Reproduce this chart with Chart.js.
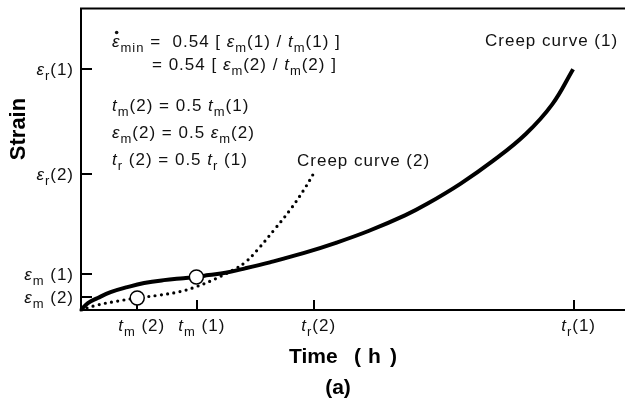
<!DOCTYPE html>
<html>
<head>
<meta charset="utf-8">
<script src="https://cdn.jsdelivr.net/npm/chart.js@4"></script>
<style>
  body { margin: 0; background: #fff; }
</style>
</head>
<body>
<canvas id="creepChart" width="625" height="410"></canvas>
<script>
// Curve data, time in units of t_r(1), strain in units of eps_r(1)
const creep1Time   = [0, 0.014, 0.034, 0.060, 0.094, 0.128, 0.168, 0.208, 0.234, 0.259, 0.293, 0.333, 0.383, 0.451, 0.517, 0.583, 0.657, 0.703, 0.770, 0.836, 0.902, 0.956, 0.998];
const creep1Strain = [0, 0.029, 0.050, 0.074, 0.095, 0.112, 0.124, 0.132, 0.137, 0.145, 0.155, 0.173, 0.198, 0.236, 0.279, 0.328, 0.393, 0.442, 0.525, 0.620, 0.731, 0.855, 1.0];
const creep2Time   = [0, 0.034, 0.074, 0.114, 0.160, 0.200, 0.234, 0.273, 0.307, 0.333, 0.357, 0.391, 0.423, 0.451, 0.475];
const creep2Strain = [0, 0.021, 0.037, 0.050, 0.062, 0.076, 0.097, 0.130, 0.165, 0.198, 0.248, 0.331, 0.413, 0.496, 0.578];

// the two marked points (t_m, eps_m)
const markTime   = [0.234, 0.114];
const markStrain = [0.137, 0.050];

// tick positions and labels (* = italic, _ = subscript)
const xTickValues = [0.114, 0.236, 0.473, 1.0];
const xTickLabels = ["*t*_m (2)", "*t*_m (1)", "*t*_r(2)", "*t*_r(1)"];
const yTickValues = [1.0, 0.566, 0.149, 0.054];
const yTickLabels = ["*ε*_r(1)", "*ε*_r(2)", "*ε*_m (1)", "*ε*_m (2)"];

const FONT = "'Liberation Sans', Arial, sans-serif";
const SPACING = 1; // the figure's text is set a little loose

// split a marked-up string into pieces
function parseRich(s) {
  const out = [];
  let italic = false;
  let i = 0;
  let buf = "";
  const flush = () => { if (buf) { out.push({ text: buf, italic: italic, sub: false }); buf = ""; } };
  while (i < s.length) {
    const c = s[i];
    if (c === "*") { flush(); italic = !italic; i++; }
    else if (c === "_") {
      flush();
      if (s[i + 1] === "{") {
        const end = s.indexOf("}", i);
        out.push({ text: s.slice(i + 2, end), italic: false, sub: true });
        i = end + 1;
      } else {
        out.push({ text: s[i + 1], italic: false, sub: true });
        i += 2;
      }
    } else { buf += c; i++; }
  }
  flush();
  return out;
}

function pieceFont(p, size) {
  const sz = p.sub ? Math.round(size * 0.75) : size;
  return (p.italic ? "italic " : "") + sz + "px " + FONT;
}

function pieceWidth(ctx, str) {
  let w = 0;
  for (const ch of str) w += ctx.measureText(ch).width + SPACING;
  return w;
}

function drawRich(ctx, s, x, y, size, align) {
  const parts = parseRich(s);
  let w = 0;
  parts.forEach(p => {
    ctx.font = pieceFont(p, size);
    p.clean = p.text.replace("\u0307", "");
    p.dot = p.text !== p.clean;
    p.w = pieceWidth(ctx, p.clean);
    w += p.w;
  });
  w -= SPACING;
  let cx = x;
  if (align === "right") cx = x - w;
  if (align === "center") cx = x - w / 2;
  ctx.textAlign = "left";
  ctx.textBaseline = "alphabetic";
  parts.forEach(p => {
    ctx.font = pieceFont(p, size);
    const py = p.sub ? y + size * 0.3 : y;
    let px = cx;
    for (const ch of p.clean) {
      ctx.fillText(ch, px, py);
      px += ctx.measureText(ch).width + SPACING;
    }
    if (p.dot) {
      ctx.beginPath();
      ctx.arc(cx + p.w * 0.55, y - size * 0.85, 1.8, 0, Math.PI * 2);
      ctx.fill();
    }
    cx += p.w;
  });
}

const axesPlugin = {
  id: "axesPlugin",
  beforeDatasetsDraw(chart) {
    const ctx = chart.ctx;
    const a = chart.chartArea;
    const xs = chart.scales.x, ys = chart.scales.y;
    ctx.save();
    ctx.strokeStyle = "#000";
    ctx.lineWidth = 2;
    ctx.beginPath();
    ctx.moveTo(625, a.top); ctx.lineTo(a.left, a.top);
    ctx.lineTo(a.left, a.bottom); ctx.lineTo(625, a.bottom);
    ctx.stroke();
    ctx.beginPath();
    yTickValues.forEach(v => {
      const py = Math.round(ys.getPixelForValue(v));
      ctx.moveTo(a.left, py); ctx.lineTo(a.left + 11, py);
    });
    xTickValues.forEach(v => {
      const px = Math.round(xs.getPixelForValue(v));
      ctx.moveTo(px, a.bottom); ctx.lineTo(px, a.bottom - 10);
    });
    ctx.stroke();
    ctx.restore();
  },
  afterDraw(chart) {
    const ctx = chart.ctx;
    const xs = chart.scales.x, ys = chart.scales.y;
    ctx.save();
    ctx.fillStyle = "#111";
    yTickValues.forEach((v, i) => {
      drawRich(ctx, yTickLabels[i], 73, ys.getPixelForValue(v) + 6, 17, "right");
    });
    xTickValues.forEach((v, i) => {
      drawRich(ctx, xTickLabels[i], xs.getPixelForValue(v) + 4, 331, 17, "center");
    });

    // formulas
    drawRich(ctx, "*ε\u0307*_{min} =  0.54 [ *ε*_m(1) / *t*_m(1) ]", 112, 47, 17, "left");
    drawRich(ctx, "= 0.54 [ *ε*_m(2) / *t*_m(2) ]", 152, 70, 17, "left");
    drawRich(ctx, "*t*_m(2) = 0.5 *t*_m(1)", 112, 111, 17, "left");
    drawRich(ctx, "*ε*_m(2) = 0.5 *ε*_m(2)", 112, 138, 17, "left");
    drawRich(ctx, "*t*_r (2) = 0.5 *t*_r (1)", 112, 165, 17, "left");
    drawRich(ctx, "Creep curve (2)", 297, 166, 17, "left");
    drawRich(ctx, "Creep curve (1)", 485, 46, 17, "left");

    // axis titles
    ctx.fillStyle = "#000";
    ctx.font = "bold 21px " + FONT;
    ctx.textAlign = "left";
    ctx.fillText("Time", 289, 363);
    ctx.fillText("(", 354, 363);
    ctx.fillText("h", 368, 363);
    ctx.fillText(")", 390, 363);
    ctx.textAlign = "center";
    ctx.fillText("(a)", 338, 394);
    ctx.font = "bold 22px " + FONT;
    ctx.translate(25, 129);
    ctx.rotate(-Math.PI / 2);
    ctx.fillText("Strain", 0, 0);
    ctx.restore();
  }
};

const toPoints = (xs, ys) => xs.map((x, i) => ({ x: x, y: ys[i] }));

new Chart(document.getElementById("creepChart"), {
  type: "scatter",
  data: {
    datasets: [
      {
        label: "Creep curve (1)",
        data: toPoints(creep1Time, creep1Strain),
        showLine: true,
        borderColor: "#000",
        borderWidth: 4,
        pointRadius: 0,
        tension: 0.4,
        clip: false,
        order: 1
      },
      {
        label: "Creep curve (2)",
        data: toPoints(creep2Time, creep2Strain),
        showLine: true,
        borderColor: "#000",
        borderWidth: 3.2,
        borderDash: [0, 6.3],
        borderCapStyle: "round",
        pointRadius: 0,
        tension: 0.4,
        clip: false,
        order: 2
      },
      {
        // white circles sit on top of both curves
        label: "marks",
        data: toPoints(markTime, markStrain),
        backgroundColor: "#fff",
        borderColor: "#000",
        borderWidth: 1.5,
        pointRadius: 7,
        clip: false,
        order: 0
      }
    ]
  },
  options: {
    responsive: false,
    animation: false,
    layout: { padding: { left: 81, top: 7, right: 0, bottom: 100 } },
    plugins: { legend: { display: false }, tooltip: { enabled: false } },
    scales: {
      x: { type: "linear", min: 0, max: 1.086, display: false },
      y: { type: "linear", min: 0, max: 1.252, display: false }
    }
  },
  plugins: [axesPlugin]
});
</script>
</body>
</html>
